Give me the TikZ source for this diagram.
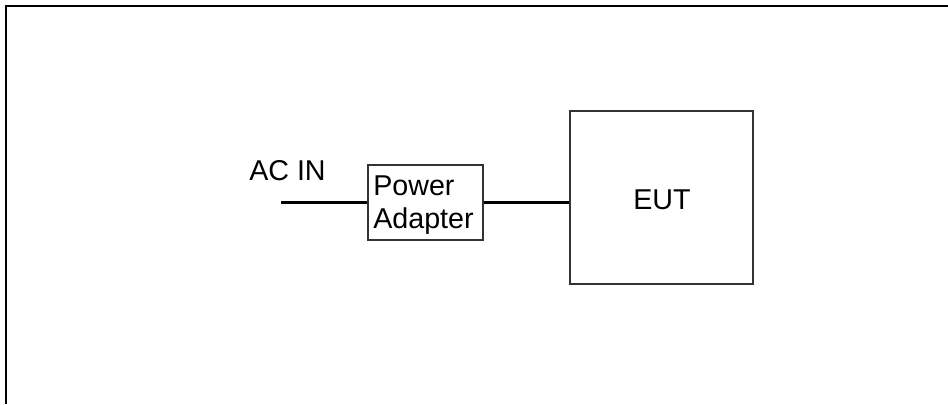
\documentclass[tikz,border=0pt]{standalone}
\usepackage{fontspec}
\setmainfont{Liberation Sans}
\begin{document}
\begin{tikzpicture}[x=0.75pt,y=-0.75pt,
  frame/.style={line width=1.6pt,black},
  wire/.style={line width=1.6pt,black},
  box/.style={draw=black!80,line width=0.8pt,inner sep=0pt},
  lbl/.style={inner sep=0pt,font=\fontsize{21.5}{25}\selectfont}]
\useasboundingbox (0,0) rectangle (948,404);
\draw[frame] (6,404) -- (6,6) -- (948,6);
\node[box,minimum width=86.25pt,minimum height=56.25pt] (pa) at (425.5,202.5) {};
\node[lbl,anchor=base west] (pw) at (373,195) {Power};
\node[lbl,anchor=base west] (ad) at (373,228) {Adapter};
\node[box,minimum width=137.25pt,minimum height=129.75pt] (eut) at (661.5,197.5) {};
\node[lbl,anchor=base] (eutl) at (662,209) {EUT};
\node[lbl,anchor=base west] (acin) at (249,180) {AC IN};
\coordinate (acs) at (281,202.5);
\draw[wire] (acs) -- (pa.west);
\draw[wire] (pa.east) -- (pa.east -| eut.west);
\end{tikzpicture}
\end{document}
